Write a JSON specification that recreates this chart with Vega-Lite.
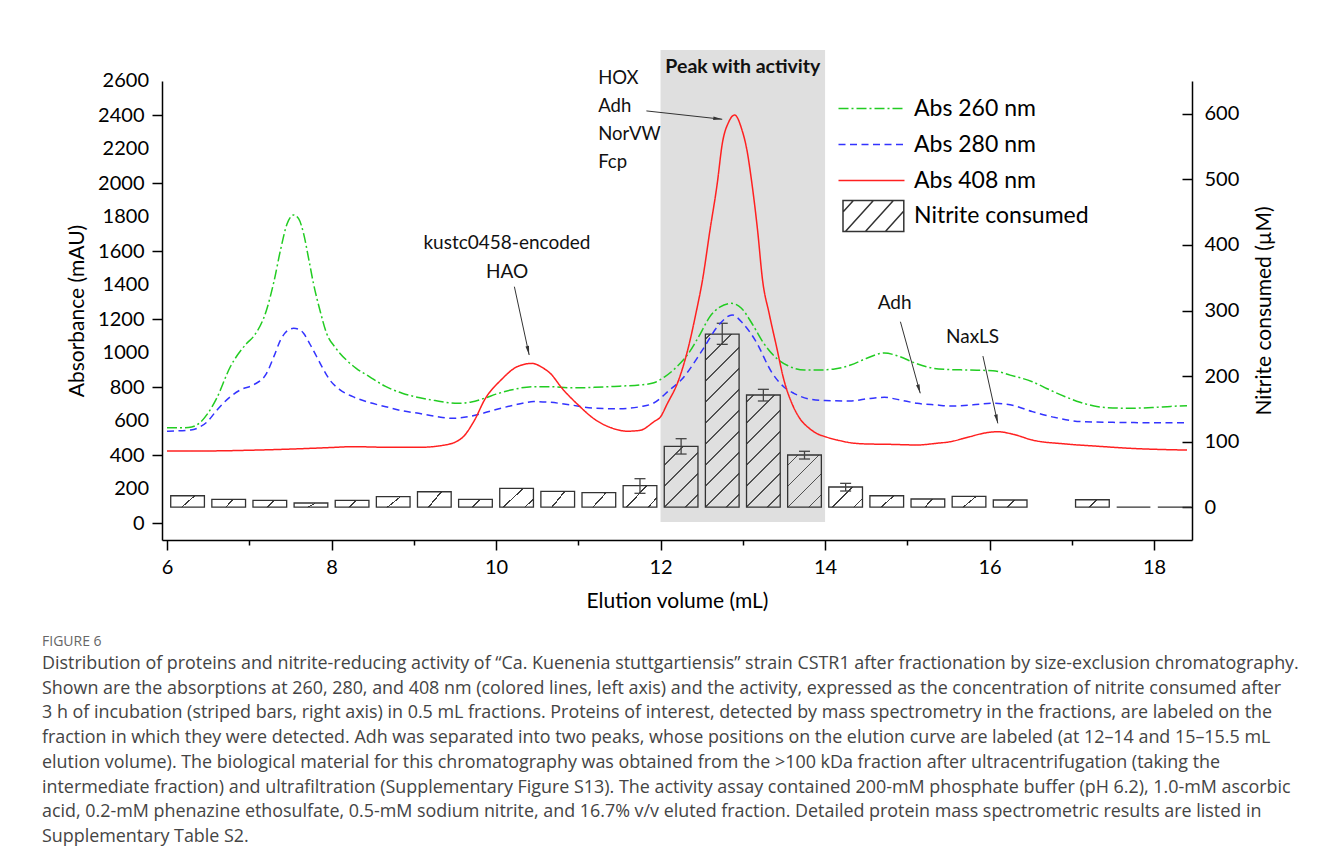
{
  "$schema": "https://vega.github.io/schema/vega-lite/v6.json",
  "width": 1030,
  "height": 459,
  "autosize": {"type": "none"},
  "padding": {"left": 162, "top": 81, "right": 130, "bottom": 326},
  "background": "white",
  "config": {
    "view": {"stroke": null},
    "font": "Lato",
    "axis": {"grid": false, "domainColor": "#000", "domainWidth": 1.5, "tickColor": "#000", "tickWidth": 1.5, "labelFont": "Lato", "labelFontSize": 20, "labelColor": "#000", "titleFont": "Lato", "titleFontSize": 21, "titleFontWeight": "normal", "titleColor": "#000", "labelOverlap": false, "labelFlush": false, "labelBound": false}
  },
  "title": {
    "text": "FIGURE 6",
    "subtitle": [
      "Distribution of proteins and nitrite-reducing activity of “Ca. Kuenenia stuttgartiensis” strain CSTR1 after fractionation by size-exclusion chromatography.",
      "Shown are the absorptions at 260, 280, and 408 nm (colored lines, left axis) and the activity, expressed as the concentration of nitrite consumed after",
      "3 h of incubation (striped bars, right axis) in 0.5 mL fractions. Proteins of interest, detected by mass spectrometry in the fractions, are labeled on the",
      "fraction in which they were detected. Adh was separated into two peaks, whose positions on the elution curve are labeled (at 12–14 and 15–15.5 mL",
      "elution volume). The biological material for this chromatography was obtained from the >100 kDa fraction after ultracentrifugation (taking the",
      "intermediate fraction) and ultrafiltration (Supplementary Figure S13). The activity assay contained 200-mM phosphate buffer (pH 6.2), 1.0-mM ascorbic",
      "acid, 0.2-mM phenazine ethosulfate, 0.5-mM sodium nitrite, and 16.7% v/v eluted fraction. Detailed protein mass spectrometric results are listed in",
      "Supplementary Table S2."
    ],
    "orient": "bottom",
    "anchor": "start",
    "frame": "group",
    "dx": -120,
    "offset": 24,
    "font": "Open Sans",
    "fontSize": 14,
    "fontWeight": "normal",
    "color": "#666666",
    "subtitleFont": "Open Sans",
    "subtitleFontSize": 17.9,
    "subtitleColor": "#444444",
    "subtitleLineHeight": 24.7,
    "subtitlePadding": 6
  },
  "datasets": {
    "abs": [
      {"s":"Abs 260 nm","x":6.0,"y":560},{"s":"Abs 260 nm","x":6.2,"y":560},{"s":"Abs 260 nm","x":6.3,"y":565},{"s":"Abs 260 nm","x":6.4,"y":590},{"s":"Abs 260 nm","x":6.5,"y":647},{"s":"Abs 260 nm","x":6.6,"y":730},{"s":"Abs 260 nm","x":6.77,"y":919},{"s":"Abs 260 nm","x":6.97,"y":1057},{"s":"Abs 260 nm","x":7.05,"y":1096},{"s":"Abs 260 nm","x":7.21,"y":1253},{"s":"Abs 260 nm","x":7.3,"y":1420},{"s":"Abs 260 nm","x":7.38,"y":1606},{"s":"Abs 260 nm","x":7.46,"y":1760},{"s":"Abs 260 nm","x":7.54,"y":1812},{"s":"Abs 260 nm","x":7.6,"y":1790},{"s":"Abs 260 nm","x":7.66,"y":1704},{"s":"Abs 260 nm","x":7.72,"y":1560},{"s":"Abs 260 nm","x":7.78,"y":1410},{"s":"Abs 260 nm","x":7.86,"y":1250},{"s":"Abs 260 nm","x":7.94,"y":1116},{"s":"Abs 260 nm","x":8.05,"y":1030},{"s":"Abs 260 nm","x":8.18,"y":959},{"s":"Abs 260 nm","x":8.3,"y":910},{"s":"Abs 260 nm","x":8.46,"y":861},{"s":"Abs 260 nm","x":8.65,"y":805},{"s":"Abs 260 nm","x":8.86,"y":763},{"s":"Abs 260 nm","x":9.06,"y":738},{"s":"Abs 260 nm","x":9.26,"y":720},{"s":"Abs 260 nm","x":9.54,"y":704},{"s":"Abs 260 nm","x":9.7,"y":712},{"s":"Abs 260 nm","x":9.86,"y":734},{"s":"Abs 260 nm","x":10.0,"y":758},{"s":"Abs 260 nm","x":10.18,"y":782},{"s":"Abs 260 nm","x":10.46,"y":802},{"s":"Abs 260 nm","x":10.66,"y":802},{"s":"Abs 260 nm","x":10.9,"y":795},{"s":"Abs 260 nm","x":11.2,"y":798},{"s":"Abs 260 nm","x":11.5,"y":805},{"s":"Abs 260 nm","x":11.75,"y":812},{"s":"Abs 260 nm","x":11.92,"y":825},{"s":"Abs 260 nm","x":12.05,"y":860},{"s":"Abs 260 nm","x":12.2,"y":920},{"s":"Abs 260 nm","x":12.34,"y":998},{"s":"Abs 260 nm","x":12.48,"y":1110},{"s":"Abs 260 nm","x":12.6,"y":1214},{"s":"Abs 260 nm","x":12.72,"y":1270},{"s":"Abs 260 nm","x":12.86,"y":1292},{"s":"Abs 260 nm","x":12.98,"y":1265},{"s":"Abs 260 nm","x":13.11,"y":1175},{"s":"Abs 260 nm","x":13.25,"y":1060},{"s":"Abs 260 nm","x":13.41,"y":969},{"s":"Abs 260 nm","x":13.55,"y":925},{"s":"Abs 260 nm","x":13.75,"y":900},{"s":"Abs 260 nm","x":13.91,"y":900},{"s":"Abs 260 nm","x":14.1,"y":905},{"s":"Abs 260 nm","x":14.31,"y":929},{"s":"Abs 260 nm","x":14.5,"y":968},{"s":"Abs 260 nm","x":14.72,"y":1000},{"s":"Abs 260 nm","x":14.9,"y":980},{"s":"Abs 260 nm","x":15.1,"y":940},{"s":"Abs 260 nm","x":15.32,"y":910},{"s":"Abs 260 nm","x":15.5,"y":903},{"s":"Abs 260 nm","x":15.72,"y":900},{"s":"Abs 260 nm","x":16.04,"y":896},{"s":"Abs 260 nm","x":16.25,"y":870},{"s":"Abs 260 nm","x":16.52,"y":831},{"s":"Abs 260 nm","x":16.7,"y":790},{"s":"Abs 260 nm","x":16.92,"y":743},{"s":"Abs 260 nm","x":17.1,"y":710},{"s":"Abs 260 nm","x":17.32,"y":684},{"s":"Abs 260 nm","x":17.5,"y":677},{"s":"Abs 260 nm","x":17.72,"y":675},{"s":"Abs 260 nm","x":18.0,"y":680},{"s":"Abs 260 nm","x":18.2,"y":686},{"s":"Abs 260 nm","x":18.4,"y":690},
      {"s":"Abs 280 nm","x":6.0,"y":540},{"s":"Abs 280 nm","x":6.29,"y":547},{"s":"Abs 280 nm","x":6.4,"y":565},{"s":"Abs 280 nm","x":6.49,"y":596},{"s":"Abs 280 nm","x":6.6,"y":660},{"s":"Abs 280 nm","x":6.77,"y":743},{"s":"Abs 280 nm","x":6.9,"y":785},{"s":"Abs 280 nm","x":7.05,"y":812},{"s":"Abs 280 nm","x":7.21,"y":880},{"s":"Abs 280 nm","x":7.3,"y":980},{"s":"Abs 280 nm","x":7.38,"y":1076},{"s":"Abs 280 nm","x":7.46,"y":1130},{"s":"Abs 280 nm","x":7.54,"y":1145},{"s":"Abs 280 nm","x":7.6,"y":1140},{"s":"Abs 280 nm","x":7.66,"y":1116},{"s":"Abs 280 nm","x":7.74,"y":1050},{"s":"Abs 280 nm","x":7.82,"y":978},{"s":"Abs 280 nm","x":7.9,"y":905},{"s":"Abs 280 nm","x":7.98,"y":841},{"s":"Abs 280 nm","x":8.1,"y":785},{"s":"Abs 280 nm","x":8.26,"y":743},{"s":"Abs 280 nm","x":8.45,"y":710},{"s":"Abs 280 nm","x":8.66,"y":684},{"s":"Abs 280 nm","x":8.86,"y":660},{"s":"Abs 280 nm","x":9.06,"y":645},{"s":"Abs 280 nm","x":9.26,"y":628},{"s":"Abs 280 nm","x":9.46,"y":616},{"s":"Abs 280 nm","x":9.66,"y":625},{"s":"Abs 280 nm","x":9.86,"y":648},{"s":"Abs 280 nm","x":10.06,"y":675},{"s":"Abs 280 nm","x":10.26,"y":698},{"s":"Abs 280 nm","x":10.46,"y":714},{"s":"Abs 280 nm","x":10.66,"y":710},{"s":"Abs 280 nm","x":10.9,"y":695},{"s":"Abs 280 nm","x":11.2,"y":675},{"s":"Abs 280 nm","x":11.5,"y":672},{"s":"Abs 280 nm","x":11.75,"y":684},{"s":"Abs 280 nm","x":11.91,"y":704},{"s":"Abs 280 nm","x":12.11,"y":782},{"s":"Abs 280 nm","x":12.25,"y":841},{"s":"Abs 280 nm","x":12.51,"y":1018},{"s":"Abs 280 nm","x":12.7,"y":1160},{"s":"Abs 280 nm","x":12.87,"y":1224},{"s":"Abs 280 nm","x":13.0,"y":1175},{"s":"Abs 280 nm","x":13.15,"y":1076},{"s":"Abs 280 nm","x":13.36,"y":880},{"s":"Abs 280 nm","x":13.5,"y":800},{"s":"Abs 280 nm","x":13.62,"y":763},{"s":"Abs 280 nm","x":13.8,"y":730},{"s":"Abs 280 nm","x":14.0,"y":720},{"s":"Abs 280 nm","x":14.3,"y":718},{"s":"Abs 280 nm","x":14.55,"y":733},{"s":"Abs 280 nm","x":14.72,"y":739},{"s":"Abs 280 nm","x":14.9,"y":725},{"s":"Abs 280 nm","x":15.12,"y":704},{"s":"Abs 280 nm","x":15.36,"y":694},{"s":"Abs 280 nm","x":15.52,"y":688},{"s":"Abs 280 nm","x":15.8,"y":695},{"s":"Abs 280 nm","x":16.04,"y":704},{"s":"Abs 280 nm","x":16.3,"y":690},{"s":"Abs 280 nm","x":16.52,"y":655},{"s":"Abs 280 nm","x":16.8,"y":620},{"s":"Abs 280 nm","x":17.12,"y":596},{"s":"Abs 280 nm","x":17.5,"y":592},{"s":"Abs 280 nm","x":18.0,"y":590},{"s":"Abs 280 nm","x":18.4,"y":590},
      {"s":"Abs 408 nm","x":6.0,"y":424},{"s":"Abs 408 nm","x":6.5,"y":424},{"s":"Abs 408 nm","x":7.0,"y":428},{"s":"Abs 408 nm","x":7.45,"y":434},{"s":"Abs 408 nm","x":8.0,"y":444},{"s":"Abs 408 nm","x":8.26,"y":449},{"s":"Abs 408 nm","x":8.6,"y":446},{"s":"Abs 408 nm","x":9.06,"y":445},{"s":"Abs 408 nm","x":9.38,"y":459},{"s":"Abs 408 nm","x":9.58,"y":498},{"s":"Abs 408 nm","x":9.74,"y":606},{"s":"Abs 408 nm","x":9.86,"y":724},{"s":"Abs 408 nm","x":10.06,"y":841},{"s":"Abs 408 nm","x":10.26,"y":920},{"s":"Abs 408 nm","x":10.44,"y":939},{"s":"Abs 408 nm","x":10.56,"y":915},{"s":"Abs 408 nm","x":10.66,"y":880},{"s":"Abs 408 nm","x":10.8,"y":794},{"s":"Abs 408 nm","x":11.0,"y":694},{"s":"Abs 408 nm","x":11.2,"y":610},{"s":"Abs 408 nm","x":11.4,"y":560},{"s":"Abs 408 nm","x":11.6,"y":540},{"s":"Abs 408 nm","x":11.75,"y":545},{"s":"Abs 408 nm","x":11.92,"y":596},{"s":"Abs 408 nm","x":12.0,"y":625},{"s":"Abs 408 nm","x":12.08,"y":700},{"s":"Abs 408 nm","x":12.22,"y":841},{"s":"Abs 408 nm","x":12.34,"y":1037},{"s":"Abs 408 nm","x":12.43,"y":1233},{"s":"Abs 408 nm","x":12.51,"y":1429},{"s":"Abs 408 nm","x":12.6,"y":1720},{"s":"Abs 408 nm","x":12.69,"y":2000},{"s":"Abs 408 nm","x":12.75,"y":2230},{"s":"Abs 408 nm","x":12.83,"y":2360},{"s":"Abs 408 nm","x":12.9,"y":2400},{"s":"Abs 408 nm","x":12.99,"y":2312},{"s":"Abs 408 nm","x":13.05,"y":2194},{"s":"Abs 408 nm","x":13.11,"y":2000},{"s":"Abs 408 nm","x":13.18,"y":1720},{"s":"Abs 408 nm","x":13.24,"y":1429},{"s":"Abs 408 nm","x":13.32,"y":1233},{"s":"Abs 408 nm","x":13.41,"y":1037},{"s":"Abs 408 nm","x":13.5,"y":841},{"s":"Abs 408 nm","x":13.6,"y":700},{"s":"Abs 408 nm","x":13.7,"y":610},{"s":"Abs 408 nm","x":13.8,"y":560},{"s":"Abs 408 nm","x":13.91,"y":524},{"s":"Abs 408 nm","x":14.0,"y":508},{"s":"Abs 408 nm","x":14.15,"y":488},{"s":"Abs 408 nm","x":14.31,"y":472},{"s":"Abs 408 nm","x":14.5,"y":465},{"s":"Abs 408 nm","x":14.76,"y":463},{"s":"Abs 408 nm","x":15.12,"y":459},{"s":"Abs 408 nm","x":15.36,"y":469},{"s":"Abs 408 nm","x":15.52,"y":478},{"s":"Abs 408 nm","x":15.76,"y":508},{"s":"Abs 408 nm","x":15.95,"y":530},{"s":"Abs 408 nm","x":16.1,"y":537},{"s":"Abs 408 nm","x":16.3,"y":520},{"s":"Abs 408 nm","x":16.52,"y":488},{"s":"Abs 408 nm","x":16.92,"y":465},{"s":"Abs 408 nm","x":17.3,"y":452},{"s":"Abs 408 nm","x":17.72,"y":439},{"s":"Abs 408 nm","x":18.4,"y":429}
    ],
    "bars": [
      {"v":6.25,"n":17.5},{"v":6.75,"n":12.0},{"v":7.25,"n":10.5},{"v":7.75,"n":6.4},{"v":8.25,"n":10.5},{"v":8.75,"n":16.0},{"v":9.25,"n":23.6},{"v":9.75,"n":12.0},{"v":10.25,"n":28.8},{"v":10.75,"n":24.2},{"v":11.25,"n":22.1},{"v":11.75,"n":32.8},{"v":12.25,"n":92.9},{"v":12.75,"n":264.1},{"v":13.25,"n":171.1},{"v":13.75,"n":79.6},{"v":14.25,"n":30.8},{"v":14.75,"n":17.5},{"v":15.25,"n":12.5},{"v":15.75,"n":16.6},{"v":16.25,"n":11.0},{"v":17.25,"n":11.4},{"v":17.75,"n":0},{"v":18.25,"n":0}
    ],
    "err": [
      {"v":11.75,"lo":21.2,"hi":43.5},{"v":12.25,"lo":81.1,"hi":104.5},{"v":12.75,"lo":248.4,"hi":280.5},{"v":13.25,"lo":162.0,"hi":179.8},{"v":13.75,"lo":73.5,"hi":85.3},{"v":14.25,"lo":24.7,"hi":36.4}
    ],
    "yticks": [
      {"v":200},{"v":600},{"v":1000},{"v":1400},{"v":1800},{"v":2200},{"v":2600}
    ],
    "labelsLeft": [
      {"t":"HOX","x":11.242,"y":2618},{"t":"Adh","x":11.242,"y":2453},{"t":"NorVW","x":11.242,"y":2288},{"t":"Fcp","x":11.242,"y":2124}
    ],
    "labelsCenter": [
      {"t":"kustc0458-encoded","x":10.133,"y":1645},{"t":"HAO","x":10.135,"y":1478},{"t":"Adh","x":14.846,"y":1292},{"t":"NaxLS","x":15.793,"y":1096}
    ],
    "peak": [{"t":"Peak with activity","x":13.0,"y":2682}],
    "arrows": [
      {"id":"a1","x":11.828,"y":2424,"x2":12.75,"y2":2375,"hx":12.696,"hy":2378},
      {"id":"a2","x":10.223,"y":1390,"x2":10.403,"y2":988,"hx":10.391,"hy":1014},
      {"id":"a3","x":14.916,"y":1184,"x2":15.157,"y2":763,"hx":15.142,"hy":788},
      {"id":"a4","x":15.919,"y":982,"x2":16.1,"y2":586,"hx":16.088,"hy":612}
    ]
  },
  "layer": [
    {
      "data": {"name": "bars"},
      "layer": [
        {
          "data": {"values": [{}]},
          "mark": {"type": "rect", "color": "#dfdfdf"},
          "encoding": {
            "x": {"datum": 12, "type": "quantitative", "scale": {"domain": [6, 18.4], "nice": false, "zero": false}, "title": "Elution volume (mL)"},
            "x2": {"datum": 14},
            "y": {"datum": -22.6, "type": "quantitative", "scale": {"domain": [-50, 650], "nice": false, "zero": false}, "title": "Nitrite consumed (µM)"},
            "y2": {"datum": 697.3}
          }
        },
        {
          "transform": [{"filter": {"field": "v", "oneOf": [6.75, 7.25, 7.75, 8.25, 9.75, 15.25, 16.25, 17.25]}}],
          "mark": {"type": "bar", "width": 33.7, "clip": true, "strokeWidth": 0, "fill": {"gradient": "linear", "x1": 0, "y1": 0, "x2": 1.162, "y2": 0.2517, "stops": [{"offset": 0, "color": "rgba(60,60,60,0)"}, {"offset": 0.4988, "color": "rgba(60,60,60,0)"}, {"offset": 0.4988, "color": "#3c3c3c"}, {"offset": 0.5402, "color": "#3c3c3c"}, {"offset": 0.5402, "color": "rgba(60,60,60,0)"}, {"offset": 1, "color": "rgba(60,60,60,0)"}]}},
          "encoding": {
            "x": {"field": "v", "type": "quantitative", "scale": {"domain": [6, 18.4], "nice": false, "zero": false}, "title": "Elution volume (mL)"},
            "y": {"field": "n", "type": "quantitative", "scale": {"domain": [-50, 650], "nice": false, "zero": false}, "title": "Nitrite consumed (µM)"},
            "y2": {"datum": 0}
          }
        },
        {
          "transform": [{"filter": {"field": "v", "oneOf": [6.25, 8.75, 9.25, 10.75, 11.25, 14.75, 15.75]}}],
          "mark": {"type": "bar", "width": 33.7, "clip": true, "strokeWidth": 0, "fill": {"gradient": "linear", "x1": 0, "y1": 0, "x2": 1.206, "y2": 0.4653, "stops": [{"offset": 0, "color": "rgba(60,60,60,0)"}, {"offset": 0.4957, "color": "rgba(60,60,60,0)"}, {"offset": 0.4957, "color": "#3c3c3c"}, {"offset": 0.5321, "color": "#3c3c3c"}, {"offset": 0.5321, "color": "rgba(60,60,60,0)"}, {"offset": 1, "color": "rgba(60,60,60,0)"}]}},
          "encoding": {
            "x": {"field": "v", "type": "quantitative", "scale": {"domain": [6, 18.4], "nice": false, "zero": false}, "title": "Elution volume (mL)"},
            "y": {"field": "n", "type": "quantitative", "scale": {"domain": [-50, 650], "nice": false, "zero": false}, "title": "Nitrite consumed (µM)"},
            "y2": {"datum": 0}
          }
        },
        {
          "transform": [{"filter": {"field": "v", "oneOf": [10.25, 11.75, 14.25]}}],
          "mark": {"type": "bar", "width": 33.7, "clip": true, "strokeWidth": 0, "fill": {"gradient": "linear", "x1": 0, "y1": 0, "x2": 1.178, "y2": 0.6994, "stops": [{"offset": 0, "color": "rgba(60,60,60,0)"}, {"offset": 0.4218, "color": "rgba(60,60,60,0)"}, {"offset": 0.4218, "color": "#3c3c3c"}, {"offset": 0.4534, "color": "#3c3c3c"}, {"offset": 0.4534, "color": "rgba(60,60,60,0)"}, {"offset": 0.8222, "color": "rgba(60,60,60,0)"}, {"offset": 0.8222, "color": "#3c3c3c"}, {"offset": 0.8538, "color": "#3c3c3c"}, {"offset": 0.8538, "color": "rgba(60,60,60,0)"}, {"offset": 1, "color": "rgba(60,60,60,0)"}]}},
          "encoding": {
            "x": {"field": "v", "type": "quantitative", "scale": {"domain": [6, 18.4], "nice": false, "zero": false}, "title": "Elution volume (mL)"},
            "y": {"field": "n", "type": "quantitative", "scale": {"domain": [-50, 650], "nice": false, "zero": false}, "title": "Nitrite consumed (µM)"},
            "y2": {"datum": 0}
          }
        },
        {
          "transform": [{"filter": {"field": "v", "oneOf": [12.25]}}],
          "mark": {"type": "bar", "width": 33.7, "clip": true, "strokeWidth": 0, "fill": {"gradient": "linear", "x1": 0, "y1": 0, "x2": 0.6581, "y2": 1.1892, "stops": [{"offset": 0, "color": "rgba(80,80,80,0)"}, {"offset": 0.1908, "color": "rgba(80,80,80,0)"}, {"offset": 0.1908, "color": "#505050"}, {"offset": 0.2088, "color": "#505050"}, {"offset": 0.2088, "color": "rgba(80,80,80,0)"}, {"offset": 0.4128, "color": "rgba(80,80,80,0)"}, {"offset": 0.4128, "color": "#505050"}, {"offset": 0.4308, "color": "#505050"}, {"offset": 0.4308, "color": "rgba(80,80,80,0)"}, {"offset": 0.6348, "color": "rgba(80,80,80,0)"}, {"offset": 0.6348, "color": "#505050"}, {"offset": 0.6528, "color": "#505050"}, {"offset": 0.6528, "color": "rgba(80,80,80,0)"}, {"offset": 0.8567, "color": "rgba(80,80,80,0)"}, {"offset": 0.8567, "color": "#505050"}, {"offset": 0.8747, "color": "#505050"}, {"offset": 0.8747, "color": "rgba(80,80,80,0)"}, {"offset": 1, "color": "rgba(80,80,80,0)"}]}},
          "encoding": {
            "x": {"field": "v", "type": "quantitative", "scale": {"domain": [6, 18.4], "nice": false, "zero": false}, "title": "Elution volume (mL)"},
            "y": {"field": "n", "type": "quantitative", "scale": {"domain": [-50, 650], "nice": false, "zero": false}, "title": "Nitrite consumed (µM)"},
            "y2": {"datum": 0}
          }
        },
        {
          "transform": [{"filter": {"field": "v", "oneOf": [12.75]}}],
          "mark": {"type": "bar", "width": 33.7, "clip": true, "strokeWidth": 0, "fill": {"gradient": "linear", "x1": 0, "y1": 0, "x2": 0.224, "y2": 1.151, "stops": [{"offset": 0, "color": "rgba(80,80,80,0)"}, {"offset": 0.021, "color": "rgba(80,80,80,0)"}, {"offset": 0.021, "color": "#505050"}, {"offset": 0.0292, "color": "#505050"}, {"offset": 0.0292, "color": "rgba(80,80,80,0)"}, {"offset": 0.1225, "color": "rgba(80,80,80,0)"}, {"offset": 0.1225, "color": "#505050"}, {"offset": 0.1307, "color": "#505050"}, {"offset": 0.1307, "color": "rgba(80,80,80,0)"}, {"offset": 0.224, "color": "rgba(80,80,80,0)"}, {"offset": 0.224, "color": "#505050"}, {"offset": 0.2322, "color": "#505050"}, {"offset": 0.2322, "color": "rgba(80,80,80,0)"}, {"offset": 0.3255, "color": "rgba(80,80,80,0)"}, {"offset": 0.3255, "color": "#505050"}, {"offset": 0.3337, "color": "#505050"}, {"offset": 0.3337, "color": "rgba(80,80,80,0)"}, {"offset": 0.427, "color": "rgba(80,80,80,0)"}, {"offset": 0.427, "color": "#505050"}, {"offset": 0.4352, "color": "#505050"}, {"offset": 0.4352, "color": "rgba(80,80,80,0)"}, {"offset": 0.5285, "color": "rgba(80,80,80,0)"}, {"offset": 0.5285, "color": "#505050"}, {"offset": 0.5367, "color": "#505050"}, {"offset": 0.5367, "color": "rgba(80,80,80,0)"}, {"offset": 0.63, "color": "rgba(80,80,80,0)"}, {"offset": 0.63, "color": "#505050"}, {"offset": 0.6382, "color": "#505050"}, {"offset": 0.6382, "color": "rgba(80,80,80,0)"}, {"offset": 0.7315, "color": "rgba(80,80,80,0)"}, {"offset": 0.7315, "color": "#505050"}, {"offset": 0.7397, "color": "#505050"}, {"offset": 0.7397, "color": "rgba(80,80,80,0)"}, {"offset": 0.833, "color": "rgba(80,80,80,0)"}, {"offset": 0.833, "color": "#505050"}, {"offset": 0.8412, "color": "#505050"}, {"offset": 0.8412, "color": "rgba(80,80,80,0)"}, {"offset": 0.9345, "color": "rgba(80,80,80,0)"}, {"offset": 0.9345, "color": "#505050"}, {"offset": 0.9427, "color": "#505050"}, {"offset": 0.9427, "color": "rgba(80,80,80,0)"}, {"offset": 1, "color": "rgba(80,80,80,0)"}]}},
          "encoding": {
            "x": {"field": "v", "type": "quantitative", "scale": {"domain": [6, 18.4], "nice": false, "zero": false}, "title": "Elution volume (mL)"},
            "y": {"field": "n", "type": "quantitative", "scale": {"domain": [-50, 650], "nice": false, "zero": false}, "title": "Nitrite consumed (µM)"},
            "y2": {"datum": 0}
          }
        },
        {
          "transform": [{"filter": {"field": "v", "oneOf": [13.25]}}],
          "mark": {"type": "bar", "width": 33.7, "clip": true, "strokeWidth": 0, "fill": {"gradient": "linear", "x1": 0, "y1": 0, "x2": 0.3583, "y2": 1.1928, "stops": [{"offset": 0, "color": "rgba(80,80,80,0)"}, {"offset": 0.0435, "color": "rgba(80,80,80,0)"}, {"offset": 0.0435, "color": "#505050"}, {"offset": 0.0551, "color": "#505050"}, {"offset": 0.0551, "color": "rgba(80,80,80,0)"}, {"offset": 0.1875, "color": "rgba(80,80,80,0)"}, {"offset": 0.1875, "color": "#505050"}, {"offset": 0.1991, "color": "#505050"}, {"offset": 0.1991, "color": "rgba(80,80,80,0)"}, {"offset": 0.3314, "color": "rgba(80,80,80,0)"}, {"offset": 0.3314, "color": "#505050"}, {"offset": 0.343, "color": "#505050"}, {"offset": 0.343, "color": "rgba(80,80,80,0)"}, {"offset": 0.4754, "color": "rgba(80,80,80,0)"}, {"offset": 0.4754, "color": "#505050"}, {"offset": 0.487, "color": "#505050"}, {"offset": 0.487, "color": "rgba(80,80,80,0)"}, {"offset": 0.6193, "color": "rgba(80,80,80,0)"}, {"offset": 0.6193, "color": "#505050"}, {"offset": 0.6309, "color": "#505050"}, {"offset": 0.6309, "color": "rgba(80,80,80,0)"}, {"offset": 0.7632, "color": "rgba(80,80,80,0)"}, {"offset": 0.7632, "color": "#505050"}, {"offset": 0.7748, "color": "#505050"}, {"offset": 0.7748, "color": "rgba(80,80,80,0)"}, {"offset": 0.9072, "color": "rgba(80,80,80,0)"}, {"offset": 0.9072, "color": "#505050"}, {"offset": 0.9188, "color": "#505050"}, {"offset": 0.9188, "color": "rgba(80,80,80,0)"}, {"offset": 1, "color": "rgba(80,80,80,0)"}]}},
          "encoding": {
            "x": {"field": "v", "type": "quantitative", "scale": {"domain": [6, 18.4], "nice": false, "zero": false}, "title": "Elution volume (mL)"},
            "y": {"field": "n", "type": "quantitative", "scale": {"domain": [-50, 650], "nice": false, "zero": false}, "title": "Nitrite consumed (µM)"},
            "y2": {"datum": 0}
          }
        },
        {
          "transform": [{"filter": {"field": "v", "oneOf": [13.75]}}],
          "mark": {"type": "bar", "width": 33.7, "clip": true, "strokeWidth": 0, "fill": {"gradient": "linear", "x1": 0, "y1": 0, "x2": 0.7499, "y2": 1.1615, "stops": [{"offset": 0, "color": "rgba(80,80,80,0)"}, {"offset": 0.1088, "color": "rgba(80,80,80,0)"}, {"offset": 0.1088, "color": "#505050"}, {"offset": 0.1286, "color": "#505050"}, {"offset": 0.1286, "color": "rgba(80,80,80,0)"}, {"offset": 0.3533, "color": "rgba(80,80,80,0)"}, {"offset": 0.3533, "color": "#505050"}, {"offset": 0.3731, "color": "#505050"}, {"offset": 0.3731, "color": "rgba(80,80,80,0)"}, {"offset": 0.5978, "color": "rgba(80,80,80,0)"}, {"offset": 0.5978, "color": "#505050"}, {"offset": 0.6176, "color": "#505050"}, {"offset": 0.6176, "color": "rgba(80,80,80,0)"}, {"offset": 0.8423, "color": "rgba(80,80,80,0)"}, {"offset": 0.8423, "color": "#505050"}, {"offset": 0.8621, "color": "#505050"}, {"offset": 0.8621, "color": "rgba(80,80,80,0)"}, {"offset": 1, "color": "rgba(80,80,80,0)"}]}},
          "encoding": {
            "x": {"field": "v", "type": "quantitative", "scale": {"domain": [6, 18.4], "nice": false, "zero": false}, "title": "Elution volume (mL)"},
            "y": {"field": "n", "type": "quantitative", "scale": {"domain": [-50, 650], "nice": false, "zero": false}, "title": "Nitrite consumed (µM)"},
            "y2": {"datum": 0}
          }
        },
        {
          "mark": {"type": "bar", "width": 33.7, "clip": true, "stroke": "#333", "strokeWidth": 1.3},
          "encoding": {
            "x": {"field": "v", "type": "quantitative", "scale": {"domain": [6, 18.4], "nice": false, "zero": false}, "title": "Elution volume (mL)"},
            "y": {"field": "n", "type": "quantitative", "scale": {"domain": [-50, 650], "nice": false, "zero": false},
              "axis": {"title": "Nitrite consumed (µM)", "orient": "right", "values": [0,50,100,150,200,250,300,350,400,450,500,550,600], "labelExpr": "datum.value % 100 === 0 ? datum.label : ''", "tickSize": {"condition": {"test": "datum.value % 100 === 0", "value": -10}, "value": -6}, "labelPadding": 22, "titlePadding": 36, "titleAngle": 270, "format": "d", "labelOverlap": false, "labelFlush": false}},
            "y2": {"datum": 0},
            "fill": {"datum": "Nitrite consumed", "type": "nominal", "scale": {"domain": ["Nitrite consumed"], "range": ["rgba(0,0,0,0)"]},
              "legend": {"orient": "none", "legendX": 694.4, "legendY": 118, "title": null, "symbolType": "M-1.9,-0.97H1.9V0.97H-1.9Z M-1.75,0.97L0,-0.97 M-0.5,0.97L1.25,-0.97 M0.75,0.97L1.9,-0.305 M-1.9,-0.25L-1.25,-0.97", "symbolSize": 1024, "labelFont": "Lato", "labelFontSize": 23, "labelColor": "#000", "labelOffset": 23.6, "padding": 0, "labelLimit": 400,
                "encode": {"symbols": {"update": {"stroke": {"value": "#222"}, "strokeWidth": {"value": 1.2}, "fill": {"value": "transparent"}}}}}}
          }
        },
        {
          "data": {"name": "err"},
          "mark": {"type": "rule", "color": "#444", "strokeWidth": 1.3},
          "encoding": {
            "x": {"field": "v", "type": "quantitative", "scale": {"domain": [6, 18.4], "nice": false, "zero": false}, "title": "Elution volume (mL)"},
            "y": {"field": "lo", "type": "quantitative", "scale": {"domain": [-50, 650], "nice": false, "zero": false}, "title": "Nitrite consumed (µM)"},
            "y2": {"field": "hi"}
          }
        },
        {
          "data": {"name": "err"},
          "mark": {"type": "tick", "orient": "horizontal", "size": 11, "thickness": 1.3, "color": "#444", "opacity": 1},
          "encoding": {
            "x": {"field": "v", "type": "quantitative", "scale": {"domain": [6, 18.4], "nice": false, "zero": false}, "title": "Elution volume (mL)"},
            "y": {"field": "lo", "type": "quantitative", "scale": {"domain": [-50, 650], "nice": false, "zero": false}, "title": "Nitrite consumed (µM)"}
          }
        },
        {
          "data": {"name": "err"},
          "mark": {"type": "tick", "orient": "horizontal", "size": 11, "thickness": 1.3, "color": "#444", "opacity": 1},
          "encoding": {
            "x": {"field": "v", "type": "quantitative", "scale": {"domain": [6, 18.4], "nice": false, "zero": false}, "title": "Elution volume (mL)"},
            "y": {"field": "hi", "type": "quantitative", "scale": {"domain": [-50, 650], "nice": false, "zero": false}, "title": "Nitrite consumed (µM)"}
          }
        }
      ]
    },
    {
      "layer": [
        {
          "data": {"name": "abs"},
          "mark": {"type": "line", "interpolate": "monotone", "strokeWidth": 1.5},
          "encoding": {
            "x": {"field": "x", "type": "quantitative", "scale": {"domain": [6, 18.4], "nice": false, "zero": false},
              "axis": {"title": "Elution volume (mL)", "values": [6,7,8,9,10,11,12,13,14,15,16,17,18], "labelExpr": "datum.value % 2 === 0 ? datum.label : ''", "tickSize": {"condition": {"test": "datum.value % 2 === 0", "value": 10}, "value": 5}, "labelPadding": 7, "titlePadding": 13, "format": "d", "labelOverlap": false, "labelFlush": false}},
            "y": {"field": "y", "type": "quantitative", "scale": {"domain": [-100, 2600], "nice": false, "zero": false},
              "axis": {"title": "Absorbance (mAU)", "orient": "left", "values": [0,100,200,300,400,500,600,700,800,900,1000,1100,1200,1300,1400,1500,1600,1700,1800,1900,2000,2100,2200,2300,2400,2500,2600], "labelExpr": "datum.value % 400 === 0 ? datum.label : ''", "tickSize": {"condition": {"test": "datum.value % 200 === 0", "value": 10}, "value": 5}, "labelPadding": 8, "titlePadding": 10, "format": "d", "labelOverlap": false, "labelFlush": false}},
            "stroke": {"field": "s", "type": "nominal", "scale": {"domain": ["Abs 260 nm", "Abs 280 nm", "Abs 408 nm"], "range": ["#22cc22", "#3333ff", "#ff2020"]},
              "legend": {"orient": "none", "legendX": 697.5, "legendY": 15.5, "title": null, "symbolType": "M-3,0H3", "symbolSize": 484, "symbolStrokeWidth": 1.5, "labelFont": "Lato", "labelFontSize": 23, "labelColor": "#000", "labelOffset": 30.5, "rowPadding": 12, "padding": 0, "labelLimit": 400}},
            "strokeDash": {"field": "s", "type": "nominal", "scale": {"domain": ["Abs 260 nm", "Abs 280 nm", "Abs 408 nm"], "range": [[10, 3, 2, 3], [7, 4.5], [1, 0]]},
              "legend": {"orient": "none", "legendX": 697.5, "legendY": 15.5, "title": null, "symbolType": "M-3,0H3", "symbolSize": 484, "symbolStrokeWidth": 1.5, "labelFont": "Lato", "labelFontSize": 23, "labelColor": "#000", "labelOffset": 30.5, "rowPadding": 12, "padding": 0, "labelLimit": 400}}
          }
        },
        {
          "data": {"name": "yticks"},
          "mark": {"type": "text", "align": "right", "baseline": "middle", "font": "Lato", "fontSize": 20, "color": "#000", "xOffset": -18},
          "encoding": {
            "x": {"datum": 6, "type": "quantitative", "scale": {"domain": [6, 18.4], "nice": false, "zero": false}, "title": "Elution volume (mL)"},
            "y": {"field": "v", "type": "quantitative", "scale": {"domain": [-100, 2600], "nice": false, "zero": false}, "title": "Absorbance (mAU)"},
            "text": {"field": "v", "type": "quantitative", "format": "d"}
          }
        },
        {
          "data": {"name": "arrows"},
          "mark": {"type": "rule", "color": "#333", "strokeWidth": 1},
          "encoding": {
            "x": {"field": "x", "type": "quantitative", "scale": {"domain": [6, 18.4], "nice": false, "zero": false}, "title": "Elution volume (mL)"},
            "y": {"field": "y", "type": "quantitative", "scale": {"domain": [-100, 2600], "nice": false, "zero": false}, "title": "Absorbance (mAU)"},
            "x2": {"field": "x2"},
            "y2": {"field": "y2"}
          }
        },
        {
          "data": {"name": "arrows"},
          "transform": [{"filter": "datum.id === 'a1'"}],
          "mark": {"type": "point", "shape": "M0,-1L0.4,1L-0.4,1Z", "size": 81, "filled": true, "color": "#333", "opacity": 1, "angle": 96},
          "encoding": {
            "x": {"field": "hx", "type": "quantitative", "scale": {"domain": [6, 18.4], "nice": false, "zero": false}, "title": "Elution volume (mL)"},
            "y": {"field": "hy", "type": "quantitative", "scale": {"domain": [-100, 2600], "nice": false, "zero": false}, "title": "Absorbance (mAU)"}
          }
        },
        {
          "data": {"name": "arrows"},
          "transform": [{"filter": "datum.id === 'a2'"}],
          "mark": {"type": "point", "shape": "M0,-1L0.4,1L-0.4,1Z", "size": 81, "filled": true, "color": "#333", "opacity": 1, "angle": 167.6},
          "encoding": {
            "x": {"field": "hx", "type": "quantitative", "scale": {"domain": [6, 18.4], "nice": false, "zero": false}, "title": "Elution volume (mL)"},
            "y": {"field": "hy", "type": "quantitative", "scale": {"domain": [-100, 2600], "nice": false, "zero": false}, "title": "Absorbance (mAU)"}
          }
        },
        {
          "data": {"name": "arrows"},
          "transform": [{"filter": "datum.id === 'a3'"}],
          "mark": {"type": "point", "shape": "M0,-1L0.4,1L-0.4,1Z", "size": 81, "filled": true, "color": "#333", "opacity": 1, "angle": 164.4},
          "encoding": {
            "x": {"field": "hx", "type": "quantitative", "scale": {"domain": [6, 18.4], "nice": false, "zero": false}, "title": "Elution volume (mL)"},
            "y": {"field": "hy", "type": "quantitative", "scale": {"domain": [-100, 2600], "nice": false, "zero": false}, "title": "Absorbance (mAU)"}
          }
        },
        {
          "data": {"name": "arrows"},
          "transform": [{"filter": "datum.id === 'a4'"}],
          "mark": {"type": "point", "shape": "M0,-1L0.4,1L-0.4,1Z", "size": 81, "filled": true, "color": "#333", "opacity": 1, "angle": 167.4},
          "encoding": {
            "x": {"field": "hx", "type": "quantitative", "scale": {"domain": [6, 18.4], "nice": false, "zero": false}, "title": "Elution volume (mL)"},
            "y": {"field": "hy", "type": "quantitative", "scale": {"domain": [-100, 2600], "nice": false, "zero": false}, "title": "Absorbance (mAU)"}
          }
        },
        {
          "data": {"name": "labelsLeft"},
          "mark": {"type": "text", "align": "left", "baseline": "middle", "font": "Lato", "fontSize": 18.5, "color": "#111"},
          "encoding": {
            "x": {"field": "x", "type": "quantitative", "scale": {"domain": [6, 18.4], "nice": false, "zero": false}, "title": "Elution volume (mL)"},
            "y": {"field": "y", "type": "quantitative", "scale": {"domain": [-100, 2600], "nice": false, "zero": false}, "title": "Absorbance (mAU)"},
            "text": {"field": "t"}
          }
        },
        {
          "data": {"name": "labelsCenter"},
          "mark": {"type": "text", "align": "center", "baseline": "middle", "font": "Lato", "fontSize": 19, "color": "#111"},
          "encoding": {
            "x": {"field": "x", "type": "quantitative", "scale": {"domain": [6, 18.4], "nice": false, "zero": false}, "title": "Elution volume (mL)"},
            "y": {"field": "y", "type": "quantitative", "scale": {"domain": [-100, 2600], "nice": false, "zero": false}, "title": "Absorbance (mAU)"},
            "text": {"field": "t"}
          }
        },
        {
          "data": {"name": "peak"},
          "mark": {"type": "text", "align": "center", "baseline": "middle", "font": "Lato", "fontSize": 19.5, "fontWeight": "bold", "color": "#111"},
          "encoding": {
            "x": {"field": "x", "type": "quantitative", "scale": {"domain": [6, 18.4], "nice": false, "zero": false}, "title": "Elution volume (mL)"},
            "y": {"field": "y", "type": "quantitative", "scale": {"domain": [-100, 2600], "nice": false, "zero": false}, "title": "Absorbance (mAU)"},
            "text": {"field": "t"}
          }
        }
      ]
    }
  ],
  "resolve": {"scale": {"y": "independent"}}
}
